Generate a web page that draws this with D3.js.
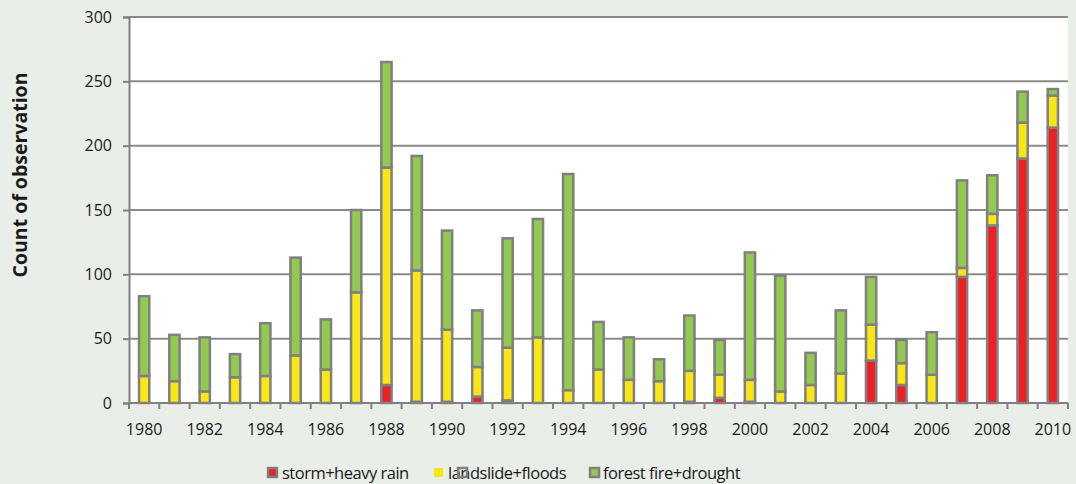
<!DOCTYPE html>
<html>
<head>
<meta charset="utf-8">
<script src="https://cdn.jsdelivr.net/npm/d3@7"></script>
<style>
  body { margin: 0; background: #eaeee9; }
  svg { display: block; font-family: "Open Sans", sans-serif; }
</style>
</head>
<body>
<svg id="chart" width="1076" height="484"></svg>
<script>
// data
const years = d3.range(1980, 2011);
const stormRain = [0, 0, 0, 0, 0, 0, 0, 0, 14, 1, 1, 5, 2, 0, 0, 0, 0, 0, 1, 4, 1, 0, 0, 0, 33, 14, 0, 98, 138, 190, 214];
const landslideFloods = [21, 17, 9, 20, 21, 37, 26, 86, 169, 102, 56, 23, 41, 51, 10, 26, 18, 17, 24, 18, 17, 9, 14, 23, 28, 17, 22, 7, 9, 28, 25];
const fireDrought = [62, 36, 42, 18, 41, 76, 39, 64, 82, 89, 77, 44, 85, 92, 168, 37, 33, 17, 43, 27, 99, 90, 25, 49, 37, 18, 33, 68, 30, 24, 5];
const seriesNames = ["storm+heavy rain", "landslide+floods", "forest fire+drought"];
const seriesColors = ["#ed2024", "#f8e714", "#93c94f"];
const yTicks = [0, 50, 100, 150, 200, 250, 300];

const svg = d3.select("#chart");
const margin = {left: 129, right: 8, top: 17, bottom: 81};
const W = 1076, H = 484;
const strokeCol = "#808080";

let rows = years.map(function (y, i) {
    return {year: y, s0: stormRain[i], s1: landslideFloods[i], s2: fireDrought[i]};
});

let x = d3.scaleBand()
    .domain(years)
    .range([margin.left, W - margin.right])
    .paddingInner(0.66)
    .paddingOuter(0.33);

let y = d3.scaleLinear()
    .domain([0, 300])
    .range([H - margin.bottom, margin.top]);

// plot background
svg.append("rect")
    .attr("x", margin.left)
    .attr("y", margin.top)
    .attr("width", W - margin.right - margin.left)
    .attr("height", y(0) - margin.top)
    .attr("fill", "#ffffff");

// gridlines
svg.append("g")
    .selectAll("line")
    .data(yTicks.filter(d => d > 0))
    .enter().append("line")
    .attr("x1", margin.left)
    .attr("x2", W - margin.right)
    .attr("y1", d => y(d))
    .attr("y2", d => y(d))
    .attr("stroke", "#8a8a8a")
    .attr("stroke-width", 2);

// stacked bars
let stack = d3.stack().keys(["s0", "s1", "s2"]);
let layers = stack(rows);

svg.append("g")
    .selectAll("g")
    .data(layers)
    .enter().append("g")
    .attr("fill", (d, i) => seriesColors[i])
    .selectAll("rect")
    .data(d => d.filter(p => p[1] - p[0] > 0))
    .enter().append("rect")
    .attr("x", d => x(d.data.year))
    .attr("width", x.bandwidth())
    .attr("y", d => y(d[1]))
    .attr("height", d => y(d[0]) - y(d[1]))
    .attr("stroke", strokeCol)
    .attr("stroke-width", 2.5);

// y axis
let yAxis = d3.axisLeft(y)
    .tickValues(yTicks)
    .tickSize(6)
    .tickPadding(11);

let gy = svg.append("g")
    .attr("transform", "translate(" + margin.left + ",0)")
    .call(yAxis);
gy.select(".domain").attr("stroke", strokeCol).attr("stroke-width", 2);
gy.selectAll(".tick line").attr("stroke", strokeCol).attr("stroke-width", 2);
gy.selectAll(".tick text")
    .attr("font-size", 16)
    .attr("fill", "#1a1a1a")
    .attr("font-family", "Open Sans");

// x axis: tick marks at band edges, labels every other year
let gx = svg.append("g");
gx.append("line")
    .attr("x1", margin.left)
    .attr("x2", W - margin.right)
    .attr("y1", y(0))
    .attr("y2", y(0))
    .attr("stroke", strokeCol)
    .attr("stroke-width", 2);

let edges = years.map(d => x(d) - x.step() * x.paddingInner() / 2);
edges.push(W - margin.right);
gx.selectAll("line.tk")
    .data(edges)
    .enter().append("line")
    .attr("class", "tk")
    .attr("x1", d => d)
    .attr("x2", d => d)
    .attr("y1", y(0))
    .attr("y2", y(0) + 6)
    .attr("stroke", strokeCol)
    .attr("stroke-width", 2);

gx.selectAll("text")
    .data(years.filter(d => d % 2 === 0))
    .enter().append("text")
    .attr("x", d => x(d) + x.bandwidth() / 2)
    .attr("y", 435)
    .attr("text-anchor", "middle")
    .attr("font-size", 16)
    .attr("fill", "#1a1a1a")
    .text(d => d);

// y axis title
svg.append("text")
    .attr("transform", "translate(27,175) rotate(-90)")
    .attr("text-anchor", "middle")
    .attr("font-size", 19.5)
    .attr("font-weight", "bold")
    .attr("fill", "#1a1a1a")
    .text("Count of observation");

// legend
let legendX = [267, 433, 589];
let legendTextX = [282, 448, 603];
let lg = svg.append("g");
seriesNames.forEach(function (name, i) {
    lg.append("rect")
        .attr("x", legendX[i] + 1)
        .attr("y", 468)
        .attr("width", 9)
        .attr("height", 9)
        .attr("fill", seriesColors[i])
        .attr("stroke", i === 1 ? "none" : strokeCol)
        .attr("stroke-width", 2.5);
    lg.append("text")
        .attr("x", legendTextX[i])
        .attr("y", 479)
        .attr("font-size", 16.5)
        .attr("letter-spacing", -0.5)
        .attr("fill", "#1a1a1a")
        .text(name);
});
// stray outline box drawn over the yellow entry in the original
lg.append("rect")
    .attr("x", 458)
    .attr("y", 468)
    .attr("width", 9)
    .attr("height", 9)
    .attr("fill", "none")
    .attr("stroke", strokeCol)
    .attr("stroke-width", 2.5);
</script>
</body>
</html>
